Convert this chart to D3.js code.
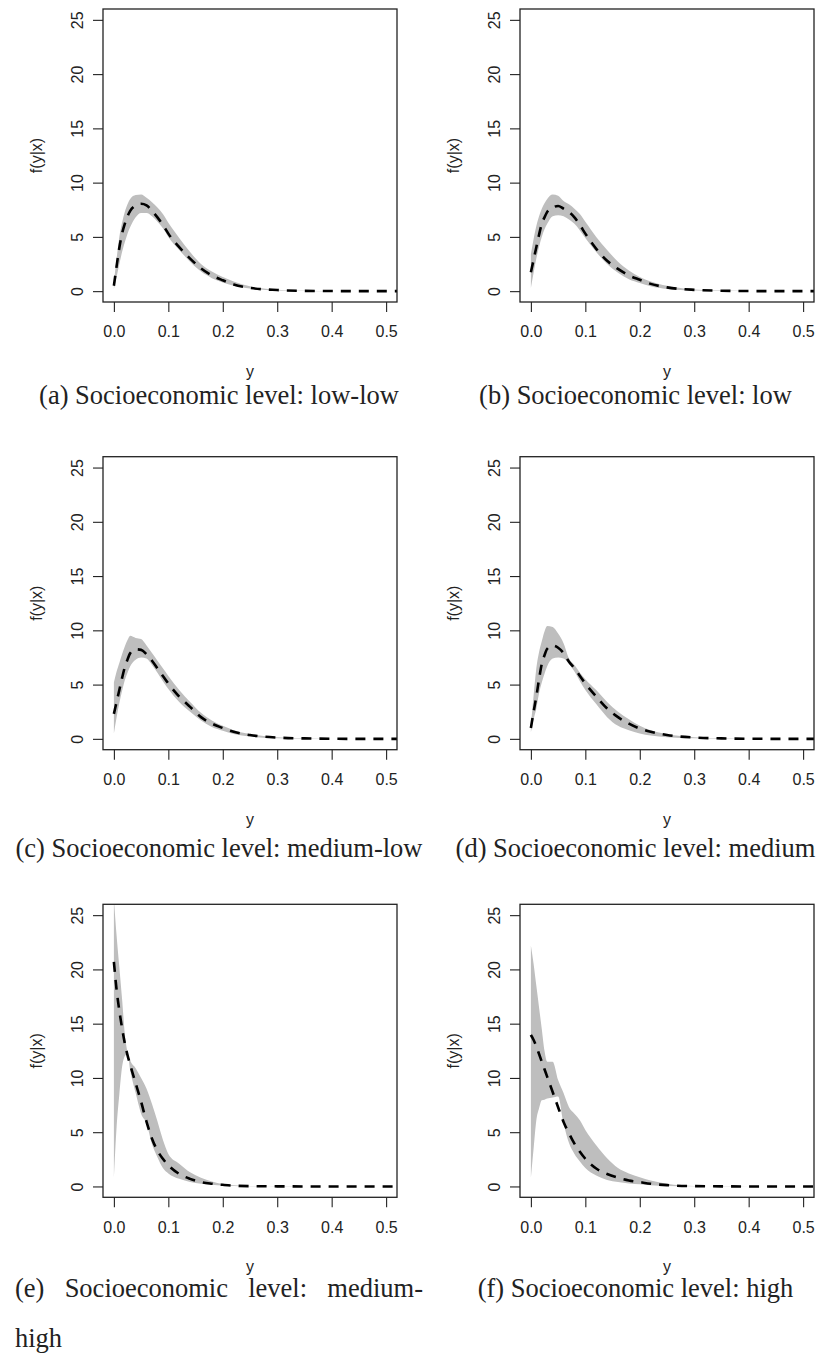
<!DOCTYPE html>
<html>
<head>
<meta charset="utf-8">
<script src="https://cdn.jsdelivr.net/npm/d3@7"></script>
<style>
  html, body { margin: 0; padding: 0; background: #fff; }
  svg { display: block; }
  .tick-label { font-family: "Liberation Sans", Arial, sans-serif; font-size: 16px; fill: #222; }
  .axis-title { font-family: "Liberation Sans", Arial, sans-serif; font-size: 16px; fill: #222; }
  .caption { font-family: "Liberation Serif", "Times New Roman", serif; font-size: 26.5px; fill: #222; }
</style>
</head>
<body>
<svg id="fig" width="820" height="1353"></svg>
<script>
// Evaluation grid for y (shared by all panels)
const yGrid = [0, 0.005, 0.01, 0.015, 0.02, 0.025, 0.03, 0.04, 0.05, 0.06, 0.07, 0.08, 0.09, 0.1,
               0.12, 0.14, 0.16, 0.18, 0.2, 0.22, 0.25, 0.3, 0.35, 0.4, 0.45, 0.5, 0.52];

// (a) low-low: posterior mean density and pointwise band
const meanLowLow  = [0.5, 2.3, 4.0, 5.3, 6.2, 6.9, 7.4, 7.9, 8.05, 7.9, 7.4, 6.8, 6.1, 5.3, 4.05, 3.0, 2.1, 1.45, 1.0, 0.62, 0.3, 0.1, 0.03, 0.01, 0, 0, 0];
const lowerLowLow = [0.2, 1.3, 2.5, 3.6, 4.5, 5.3, 5.9, 6.8, 7.2, 7.2, 6.9, 6.4, 5.8, 5.0, 3.8, 2.7, 1.8, 1.2, 0.8, 0.5, 0.25, 0.06, 0.02, 0, 0, 0, 0];
const upperLowLow = [0.8, 3.0, 5.0, 6.3, 7.3, 8.0, 8.5, 8.85, 8.9, 8.6, 8.2, 7.7, 7.1, 6.3, 4.9, 3.6, 2.5, 1.8, 1.3, 0.9, 0.45, 0.13, 0.04, 0.01, 0, 0, 0];

// (b) low
const meanLow  = [1.75, 2.9, 4.05, 5.2, 6.2, 6.8, 7.3, 7.7, 7.85, 7.6, 7.3, 6.8, 6.1, 5.3, 3.9, 2.8, 2.05, 1.45, 1.05, 0.67, 0.35, 0.12, 0.04, 0.01, 0, 0, 0];
const lowerLow = [0.3, 1.7, 3.0, 4.1, 5.0, 5.7, 6.2, 6.9, 7.0, 6.9, 6.6, 6.2, 5.6, 4.9, 3.6, 2.5, 1.7, 1.1, 0.75, 0.45, 0.2, 0.05, 0.01, 0, 0, 0, 0];
const upperLow = [3.4, 4.8, 6.0, 6.9, 7.6, 8.1, 8.5, 8.9, 8.8, 8.3, 8.0, 7.6, 7.1, 6.4, 5.0, 3.8, 2.7, 1.9, 1.3, 0.9, 0.5, 0.15, 0.05, 0.01, 0, 0, 0];

// (c) medium-low
const meanMedLow  = [2.3, 3.4, 4.5, 5.6, 6.6, 7.3, 7.9, 8.25, 8.2, 7.8, 7.2, 6.5, 5.8, 5.1, 3.9, 2.95, 2.0, 1.4, 1.0, 0.65, 0.35, 0.12, 0.04, 0.01, 0, 0, 0];
const lowerMedLow = [0.5, 2.0, 3.3, 4.4, 5.4, 6.1, 6.7, 7.3, 7.5, 7.4, 6.8, 6.1, 5.3, 4.6, 3.4, 2.5, 1.7, 1.1, 0.75, 0.45, 0.22, 0.05, 0.01, 0, 0, 0, 0];
const upperMedLow = [5.2, 6.2, 7.0, 7.8, 8.5, 9.1, 9.5, 9.3, 9.2, 8.6, 7.9, 7.2, 6.5, 5.8, 4.5, 3.4, 2.4, 1.7, 1.2, 0.8, 0.45, 0.15, 0.05, 0.01, 0, 0, 0];

// (d) medium
const meanMed  = [1.0, 2.5, 3.9, 5.5, 6.9, 7.7, 8.3, 8.6, 8.4, 7.9, 7.1, 6.5, 5.8, 5.1, 3.9, 2.8, 2.0, 1.4, 0.95, 0.65, 0.35, 0.12, 0.04, 0.01, 0, 0, 0];
const lowerMed = [0.6, 1.8, 2.8, 4.2, 5.2, 6.0, 6.7, 7.4, 7.5, 7.4, 6.9, 6.2, 5.3, 4.5, 3.2, 2.0, 1.2, 0.8, 0.5, 0.3, 0.15, 0.05, 0.01, 0, 0, 0, 0];
const upperMed = [1.2, 4.0, 6.5, 8.0, 9.0, 9.9, 10.4, 10.3, 9.7, 8.8, 7.4, 6.8, 6.1, 5.5, 4.5, 3.4, 2.5, 1.8, 1.2, 0.8, 0.45, 0.15, 0.05, 0.01, 0, 0, 0];

// (e) medium-high
const meanMedHigh  = [20.7, 18.1, 16.2, 14.6, 13.2, 12.1, 11.2, 9.5, 7.8, 5.95, 4.4, 3.3, 2.55, 1.95, 1.15, 0.7, 0.4, 0.25, 0.15, 0.07, 0.03, 0.01, 0, 0, 0, 0, 0];
const lowerMedHigh = [0.8, 5.5, 8.5, 11.0, 12.0, 12.2, 10.7, 8.6, 6.7, 5.8, 3.9, 2.7, 1.7, 1.2, 0.7, 0.4, 0.25, 0.15, 0.08, 0.03, 0.01, 0, 0, 0, 0, 0, 0];
const upperMedHigh = [26.5, 23.1, 20.2, 17.3, 14.1, 12.4, 11.6, 10.9, 10.0, 9.0, 7.6, 6.0, 4.3, 3.0, 2.1, 1.3, 0.8, 0.45, 0.22, 0.1, 0.04, 0.01, 0, 0, 0, 0, 0];

// (f) high
const meanHigh  = [13.96, 13.5, 12.9, 12.2, 11.5, 10.8, 10.1, 8.7, 7.3, 5.95, 4.9, 3.95, 3.2, 2.55, 1.65, 1.15, 0.8, 0.55, 0.4, 0.25, 0.12, 0.03, 0.01, 0, 0, 0, 0];
const lowerHigh = [0.8, 3.5, 6.1, 7.2, 7.95, 8.0, 8.1, 8.2, 8.3, 5.8, 4.0, 3.0, 2.3, 1.7, 1.0, 0.6, 0.4, 0.28, 0.2, 0.12, 0.05, 0.01, 0, 0, 0, 0, 0];
const upperHigh = [22.2, 20.5, 18.5, 16.5, 14.5, 12.5, 11.5, 11.5, 9.8, 8.6, 7.3, 6.7, 6.1, 5.2, 3.8, 2.6, 1.7, 1.2, 0.85, 0.55, 0.25, 0.05, 0.01, 0, 0, 0, 0];

// Axis ticks and panel captions
const xTicks = [0, 0.1, 0.2, 0.3, 0.4, 0.5];
const yTicks = [0, 5, 10, 15, 20, 25];
const captionTags = ["(a)", "(b)", "(c)", "(d)", "(e)", "(f)"];
const captionTexts = [
  "Socioeconomic level: low-low",
  "Socioeconomic level: low",
  "Socioeconomic level: medium-low",
  "Socioeconomic level: medium",
  "Socioeconomic level: medium-",
  "Socioeconomic level: high"
];
const captionWrap = ["", "", "", "", "high", ""];

const means  = [meanLowLow, meanLow, meanMedLow, meanMed, meanMedHigh, meanHigh];
const lowers = [lowerLowLow, lowerLow, lowerMedLow, lowerMed, lowerMedHigh, lowerHigh];
const uppers = [upperLowLow, upperLow, upperMedLow, upperMed, upperMedHigh, upperHigh];

// ---- layout ----
const colLeft = [103, 520];
const boxW = 294;
const rowTop = [9, 456.7, 904.3];
const boxH = 293;
const subfigLeft = [15, 431.5];     // caption block of each column
const subfigWidth = 408;
const capBaseline = [404, 857, 1297];
const capLineGap = 50;

const svg = d3.select("#fig");

means.forEach((meanVals, i) => {
  const col = i % 2, row = Math.floor(i / 2);
  const L = colLeft[col], T = rowTop[row];
  const x = d3.scaleLinear().domain([-0.02, 0.52]).range([L, L + boxW]);
  const y = d3.scaleLinear().domain([-1, 26]).range([T + boxH, T]);

  const g = svg.append("g");
  const clipId = "clip" + i;
  g.append("clipPath").attr("id", clipId)
    .append("rect").attr("x", L).attr("y", T).attr("width", boxW).attr("height", boxH);

  const pts = yGrid.map((v, k) => ({ v, m: meanVals[k], lo: lowers[i][k], hi: uppers[i][k] }));

  // pointwise band
  const band = d3.area()
    .x(d => x(d.v)).y0(d => y(d.lo)).y1(d => y(d.hi))
    .curve(d3.curveMonotoneX);
  g.append("path").datum(pts.filter(d => d.v <= 0.4))
    .attr("clip-path", `url(#${clipId})`)
    .attr("d", band).attr("fill", "#bebebe").attr("stroke", "none");

  // posterior mean density (dashed)
  const line = d3.line().x(d => x(d.v)).y(d => y(d.m)).curve(d3.curveMonotoneX);
  g.append("path").datum(pts)
    .attr("clip-path", `url(#${clipId})`)
    .attr("d", line).attr("fill", "none").attr("stroke", "#000")
    .attr("stroke-width", 2.6).attr("stroke-dasharray", "10 8");

  // frame
  g.append("rect").attr("x", L).attr("y", T).attr("width", boxW).attr("height", boxH)
    .attr("fill", "none").attr("stroke", "#222").attr("stroke-width", 1.3);

  // x axis
  const xAxis = d3.axisBottom(x).tickValues(xTicks).tickSize(10).tickFormat(d3.format(".1f"));
  const gx = g.append("g").attr("transform", `translate(0,${T + boxH})`).call(xAxis);
  gx.select(".domain").remove();
  gx.selectAll(".tick line").attr("stroke", "#222").attr("stroke-width", 1.1);
  gx.selectAll(".tick text").attr("class", "tick-label").attr("y", 24).attr("dy", "0.71em");

  // y axis (labels parallel to axis)
  const yAxis = d3.axisLeft(y).tickValues(yTicks).tickSize(10).tickFormat(d3.format("d"));
  const gy = g.append("g").attr("transform", `translate(${L},0)`).call(yAxis);
  gy.select(".domain").remove();
  gy.selectAll(".tick line").attr("stroke", "#222").attr("stroke-width", 1.1);
  gy.selectAll(".tick text").attr("class", "tick-label")
    .attr("x", null).attr("dy", null)
    .attr("text-anchor", "middle")
    .attr("transform", "translate(-20,0) rotate(-90)");

  // axis titles
  g.append("text").attr("class", "axis-title")
    .attr("x", L + boxW / 2).attr("y", T + boxH + 75)
    .attr("text-anchor", "middle").text("y");
  g.append("text").attr("class", "axis-title")
    .attr("transform", `translate(${L - 61},${T + boxH / 2}) rotate(-90)`)
    .attr("text-anchor", "middle").text("f(y|x)");

  // caption: centred when it fits on one line, otherwise justified first line + remainder
  const base = capBaseline[row];
  const left = subfigLeft[col];
  const cap = g.append("text").attr("class", "caption").attr("y", base);
  if (captionWrap[i]) {
    const words = [captionTags[i]].concat(captionTexts[i].split(" "));
    const spans = words.map(w => cap.append("tspan").text(w));
    const widths = spans.map(s => s.node().getComputedTextLength());
    const gap = (subfigWidth - d3.sum(widths)) / (words.length - 1);
    let cx = left;
    spans.forEach((s, k) => { s.attr("x", cx); cx += widths[k] + gap; });
    g.append("text").attr("class", "caption")
      .attr("x", left).attr("y", base + capLineGap).text(captionWrap[i]);
  } else {
    cap.attr("x", left + subfigWidth / 2).attr("text-anchor", "middle")
      .text(captionTags[i] + " " + captionTexts[i]);
  }
});
</script>
</body>
</html>
